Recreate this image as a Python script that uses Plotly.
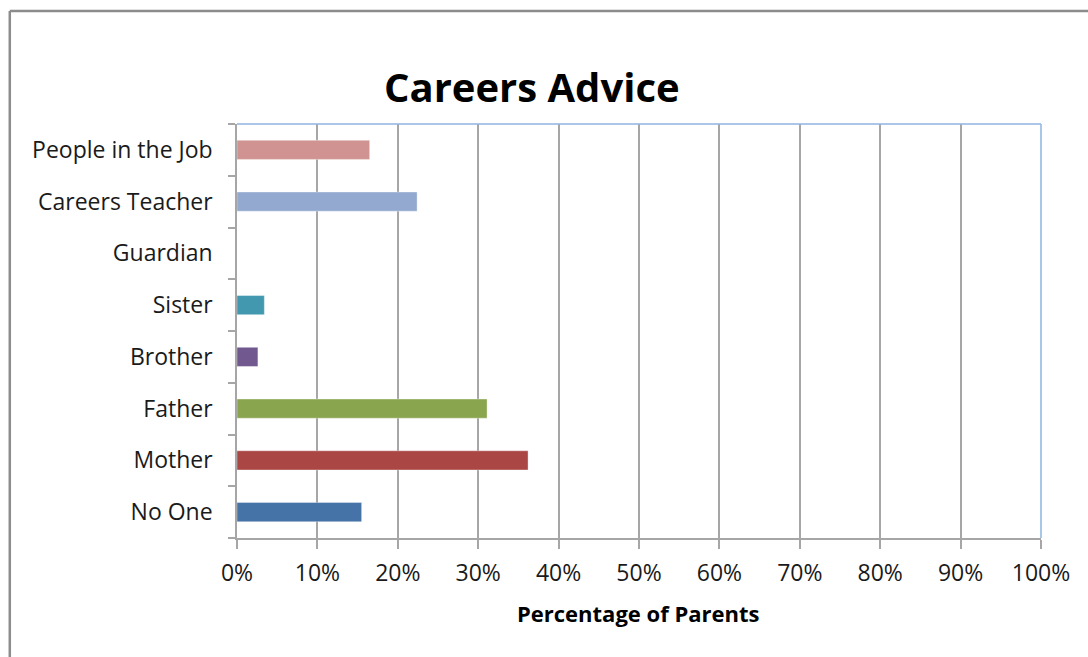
import plotly.graph_objects as go

# Who parents turned to for careers advice (share of parents)
categories = ["No One", "Mother", "Father", "Brother", "Sister",
              "Guardian", "Careers Teacher", "People in the Job"]
shares = [0.155, 0.362, 0.311, 0.026, 0.034, 0.0, 0.224, 0.165]
bar_colors = ["#4572A7", "#AA4643", "#89A54E", "#71588F", "#4198AF",
              "#DB843D", "#93A9CF", "#D19392"]
x_tick_values = [i / 10 for i in range(11)]
x_tick_labels = [f"{i * 10}%" for i in range(11)]

FONT = "Open Sans"

fig = go.Figure(
    go.Bar(
        x=shares,
        y=categories,
        orientation="h",
        width=0.37,
        marker=dict(color=bar_colors,
                    line=dict(color="rgba(255,255,255,0.35)", width=1)),
        hoverinfo="x+y",
    )
)

fig.update_layout(
    width=1088,
    height=657,
    margin=dict(l=236.5, r=46.5, t=124, b=118.7),
    paper_bgcolor="white",
    plot_bgcolor="white",
    showlegend=False,
    font=dict(family=FONT, color="#1a1a1a"),
    bargap=0.6,
)

fig.update_xaxes(
    range=[0, 1],
    tickvals=x_tick_values,
    ticktext=x_tick_labels,
    tickfont=dict(size=23, family=FONT, color="#1a1a1a"),
    showgrid=True,
    gridcolor="#A6A6A6",
    gridwidth=1.5,
    showline=True,
    linecolor="#A6A6A6",
    linewidth=1.5,
    ticks="outside",
    ticklen=9,
    tickcolor="#A6A6A6",
    tickwidth=1.5,
    ticklabelstandoff=5,
    zeroline=False,
    fixedrange=True,
)

fig.update_yaxes(
    categoryorder="array",
    categoryarray=categories,
    tickfont=dict(size=23, family=FONT, color="#1a1a1a"),
    showgrid=False,
    showline=True,
    linecolor="#A6A6A6",
    linewidth=1.5,
    ticks="outside",
    tickson="boundaries",
    ticklen=7,
    tickcolor="#A6A6A6",
    tickwidth=1.5,
    ticklabelstandoff=18,
    zeroline=False,
    fixedrange=True,
)

# Plot-area border on the top and right edges
for x0, y0, x1, y1 in [(0, 1, 1, 1), (1, 0, 1, 1)]:
    fig.add_shape(type="line", xref="x domain", yref="y domain",
                  x0=x0, y0=y0, x1=x1, y1=y1,
                  line=dict(color="#8EB4E3", width=1.5), layer="above")

# Chart-area frame (left and top edges)
fig.add_shape(type="line", xref="paper", yref="paper",
              x0=(9 - 236.5) / 805, y0=(538.3 - 11) / 414.3,
              x1=(9 - 236.5) / 805, y1=(538.3 - 660) / 414.3,
              line=dict(color="#8C8C8C", width=2.5))
fig.add_shape(type="line", xref="paper", yref="paper",
              x0=(9 - 236.5) / 805, y0=(538.3 - 11) / 414.3,
              x1=(1090 - 236.5) / 805, y1=(538.3 - 11) / 414.3,
              line=dict(color="#8C8C8C", width=2.5))

fig.add_annotation(
    text="<b>Careers Advice</b>",
    xref="paper", yref="paper",
    x=(532 - 236.5) / 805, y=(538.3 - 86) / 414.3,
    xanchor="center", yanchor="middle",
    showarrow=False,
    font=dict(size=40, family=FONT, color="black"),
)

fig.add_annotation(
    text="<b>Percentage of Parents</b>",
    xref="paper", yref="paper",
    x=(638 - 236.5) / 805, y=(538.3 - 613) / 414.3,
    xanchor="center", yanchor="middle",
    showarrow=False,
    font=dict(size=22, family=FONT, color="black"),
)

fig.write_html("out.html")
